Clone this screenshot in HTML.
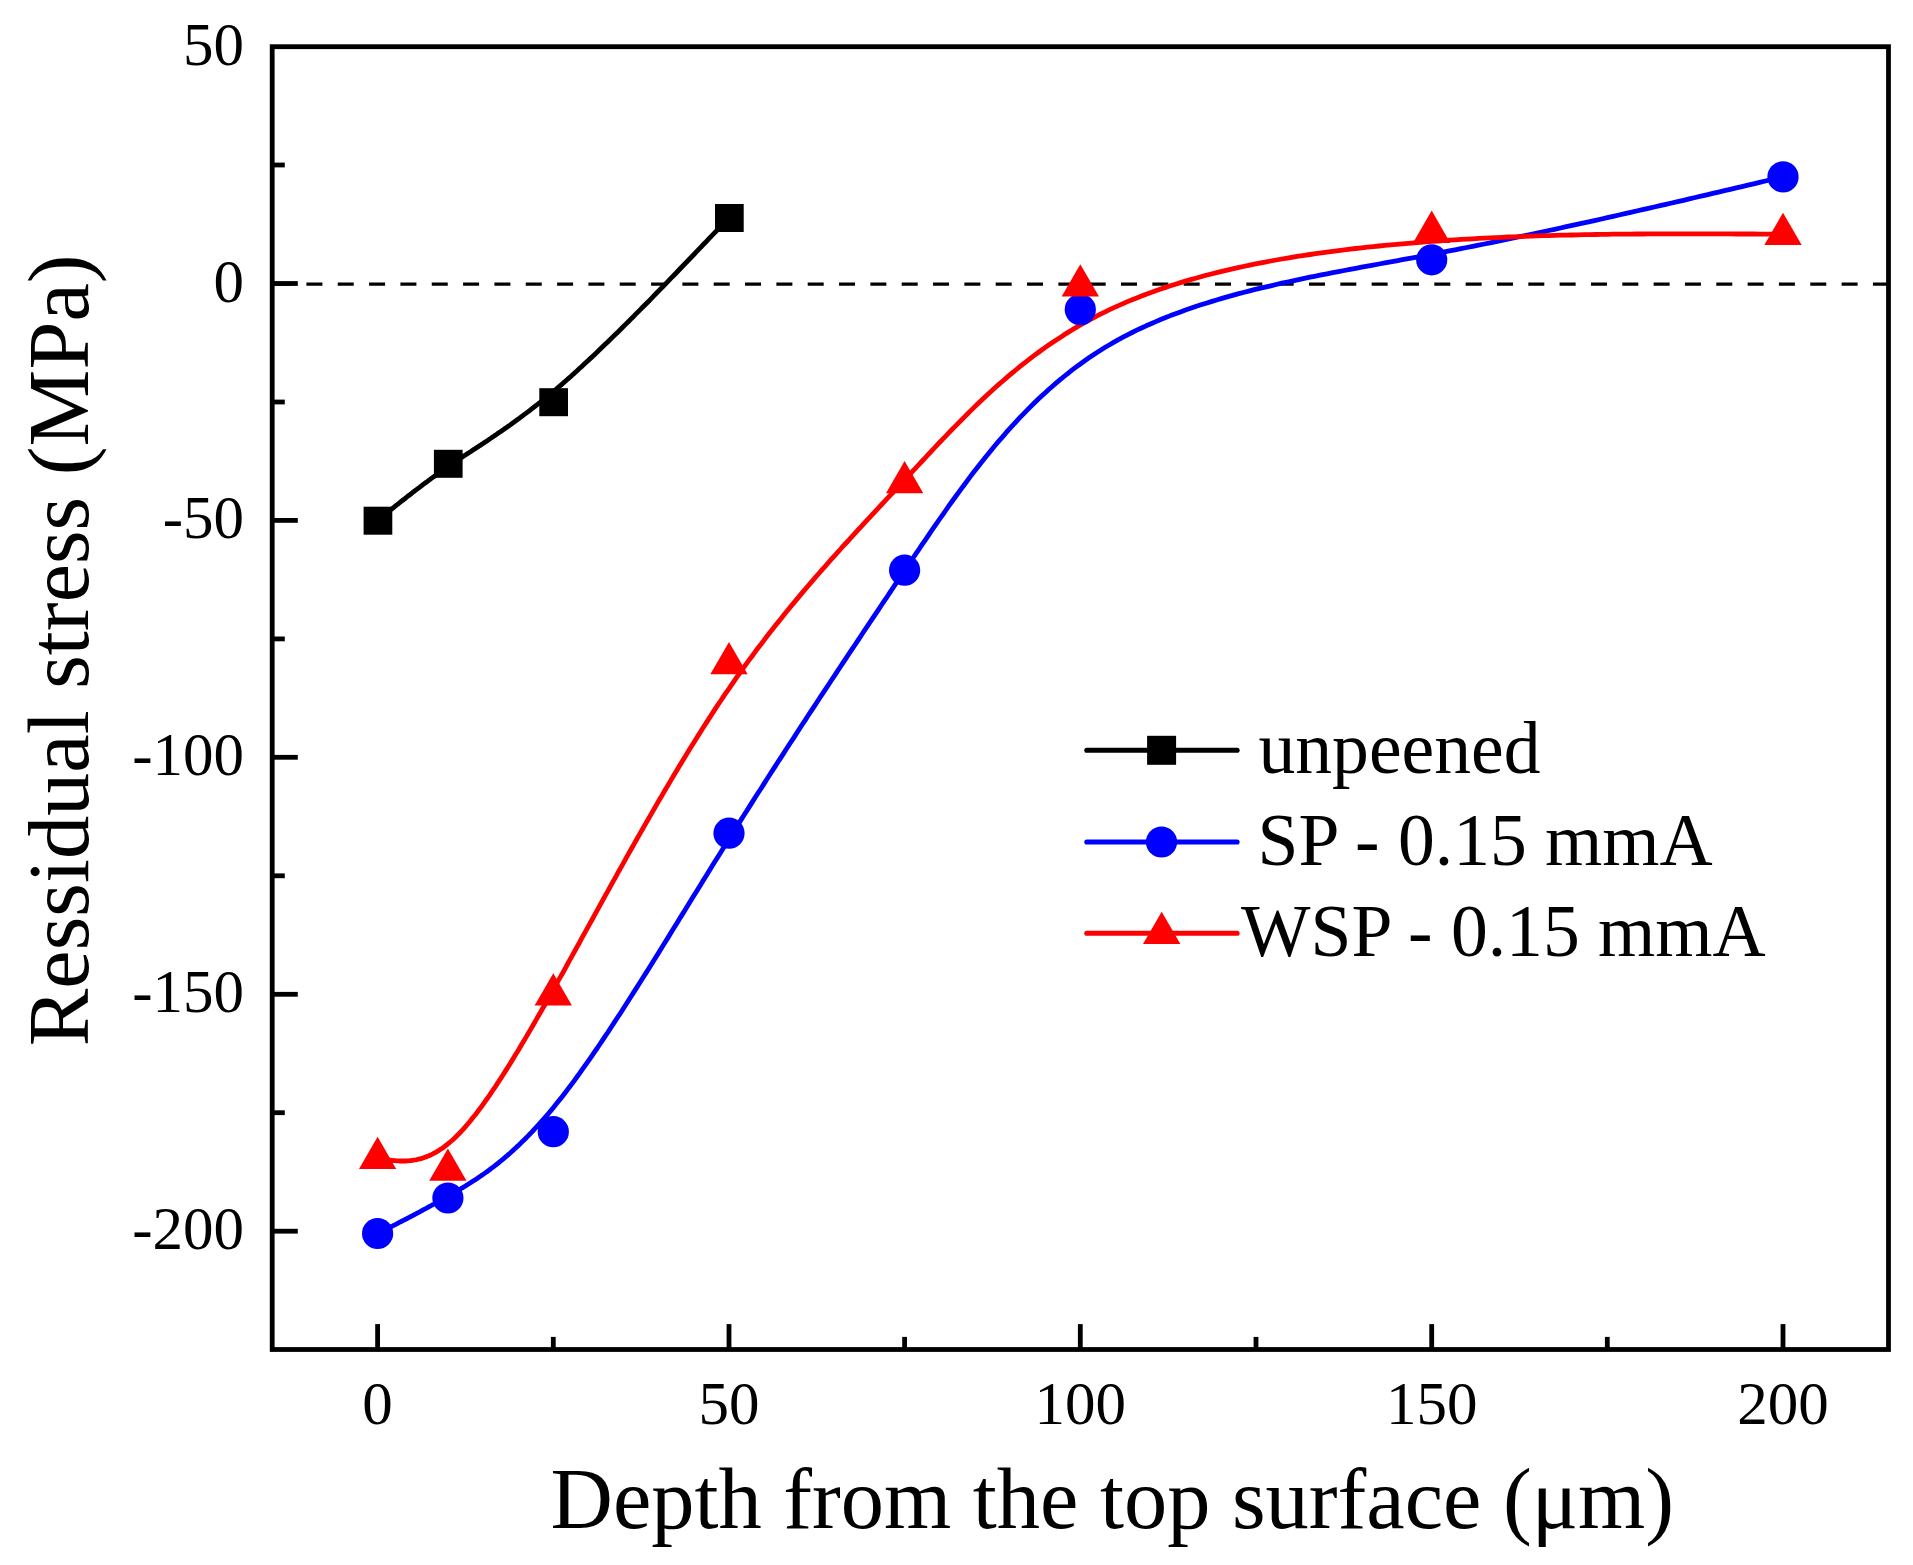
<!DOCTYPE html>
<html><head><meta charset="utf-8"><title>Residual stress</title>
<style>html,body{margin:0;padding:0;background:#fff}svg{display:block}text{font-family:"Liberation Serif","Times New Roman",serif;fill:#000}</style></head><body>
<svg width="1913" height="1565" viewBox="0 0 1913 1565">
<rect width="1913" height="1565" fill="#fff"/>
<line x1="275.1" y1="284.1" x2="1888.5" y2="284.1" stroke="#000" stroke-width="3.4" stroke-dasharray="16 15.33"/>
<g fill="none" stroke-width="4.8" stroke-linejoin="round" stroke-linecap="round">
<path d="M377.6,520.4 L378.8,519.5 L379.9,518.5 L381.1,517.6 L382.3,516.6 L383.5,515.7 L384.6,514.7 L385.8,513.8 L387.0,512.8 L388.2,511.9 L389.3,510.9 L390.5,510.0 L391.7,509.0 L392.9,508.1 L394.1,507.1 L395.3,506.2 L396.4,505.2 L397.6,504.3 L398.8,503.3 L400.0,502.4 L401.2,501.4 L402.4,500.5 L403.7,499.5 L404.9,498.6 L406.1,497.6 L407.3,496.7 L408.5,495.7 L409.8,494.8 L411.0,493.8 L412.2,492.8 L413.5,491.9 L414.7,490.9 L416.0,490.0 L417.2,489.0 L418.5,488.1 L419.8,487.1 L421.0,486.1 L422.3,485.2 L423.6,484.2 L424.9,483.2 L426.2,482.3 L427.5,481.3 L428.8,480.3 L430.1,479.4 L431.4,478.4 L432.8,477.4 L434.1,476.5 L435.5,475.5 L436.8,474.5 L438.2,473.6 L439.5,472.6 L440.9,471.6 L442.3,470.6 L443.7,469.6 L445.1,468.7 L446.5,467.7 L447.9,466.7 L449.4,465.7 L450.8,464.7 L452.3,463.8 L453.7,462.8 L455.2,461.8 L456.7,460.8 L458.2,459.8 L459.7,458.8 L461.2,457.8 L462.7,456.8 L464.2,455.8 L465.8,454.8 L467.3,453.8 L468.9,452.7 L470.5,451.7 L472.0,450.7 L473.6,449.6 L475.3,448.6 L476.9,447.5 L478.5,446.4 L480.2,445.4 L481.8,444.3 L483.5,443.2 L485.2,442.0 L486.9,440.9 L488.6,439.8 L490.3,438.6 L492.0,437.4 L493.8,436.3 L495.6,435.1 L497.3,433.8 L499.1,432.6 L500.9,431.4 L502.8,430.1 L504.6,428.8 L506.5,427.5 L508.3,426.2 L510.2,424.9 L512.1,423.5 L514.0,422.1 L515.9,420.7 L517.9,419.3 L519.9,417.9 L521.8,416.4 L523.8,414.9 L525.8,413.4 L527.9,411.9 L529.9,410.3 L532.0,408.7 L534.0,407.1 L536.1,405.5 L538.2,403.8 L540.4,402.1 L542.5,400.4 L544.7,398.7 L546.9,396.9 L549.1,395.1 L551.3,393.2 L553.5,391.4 L555.8,389.5 L558.0,387.5 L560.3,385.6 L562.7,383.6 L565.0,381.5 L567.3,379.5 L569.7,377.4 L572.1,375.2 L574.5,373.1 L576.9,370.9 L579.4,368.6 L581.8,366.4 L584.3,364.1 L586.8,361.8 L589.3,359.4 L591.9,357.1 L594.4,354.7 L597.0,352.2 L599.5,349.8 L602.1,347.3 L604.7,344.8 L607.4,342.3 L610.0,339.7 L612.6,337.1 L615.3,334.5 L618.0,331.9 L620.7,329.2 L623.4,326.6 L626.1,323.9 L628.8,321.2 L631.5,318.4 L634.3,315.7 L637.0,312.9 L639.8,310.1 L642.6,307.3 L645.4,304.5 L648.2,301.7 L651.0,298.8 L653.8,295.9 L656.6,293.0 L659.4,290.1 L662.3,287.2 L665.1,284.3 L668.0,281.4 L670.8,278.4 L673.7,275.5 L676.6,272.5 L679.4,269.5 L682.3,266.5 L685.2,263.5 L688.1,260.5 L691.0,257.5 L693.9,254.5 L696.8,251.4 L699.7,248.4 L702.6,245.3 L705.6,242.3 L708.5,239.2 L711.4,236.2 L714.3,233.1 L717.2,230.1 L720.2,227.0 L723.1,223.9 L726.0,220.8 L729.0,217.8" stroke="#000"/>
<path d="M377.6,1233.5 L378.8,1233.0 L379.9,1232.4 L381.1,1231.8 L382.3,1231.2 L383.5,1230.6 L384.6,1230.0 L385.8,1229.4 L387.0,1228.8 L388.2,1228.2 L389.3,1227.6 L390.5,1227.0 L391.7,1226.4 L392.9,1225.8 L394.1,1225.2 L395.3,1224.6 L396.4,1224.0 L397.6,1223.4 L398.8,1222.7 L400.0,1222.1 L401.2,1221.5 L402.4,1220.9 L403.7,1220.3 L404.9,1219.6 L406.1,1219.0 L407.3,1218.4 L408.5,1217.7 L409.8,1217.1 L411.0,1216.4 L412.2,1215.8 L413.5,1215.1 L414.7,1214.5 L416.0,1213.8 L417.2,1213.1 L418.5,1212.5 L419.8,1211.8 L421.0,1211.1 L422.3,1210.4 L423.6,1209.7 L424.9,1209.0 L426.2,1208.3 L427.5,1207.6 L428.8,1206.9 L430.1,1206.2 L431.4,1205.5 L432.8,1204.7 L434.1,1204.0 L435.5,1203.2 L436.8,1202.5 L438.2,1201.7 L439.5,1201.0 L440.9,1200.2 L442.3,1199.4 L443.7,1198.6 L445.1,1197.8 L446.5,1197.0 L447.9,1196.2 L449.4,1195.4 L450.8,1194.6 L452.3,1193.7 L453.7,1192.9 L455.2,1192.0 L456.7,1191.2 L458.2,1190.3 L459.7,1189.4 L461.2,1188.5 L462.7,1187.6 L464.2,1186.7 L465.8,1185.7 L467.3,1184.8 L468.9,1183.8 L470.5,1182.8 L472.0,1181.8 L473.6,1180.8 L475.3,1179.7 L476.9,1178.7 L478.5,1177.6 L480.2,1176.4 L481.8,1175.3 L483.5,1174.1 L485.2,1172.9 L486.9,1171.7 L488.6,1170.5 L490.3,1169.2 L492.0,1167.9 L493.8,1166.6 L495.6,1165.2 L497.3,1163.8 L499.1,1162.3 L500.9,1160.9 L502.8,1159.4 L504.6,1157.8 L506.5,1156.2 L508.3,1154.6 L510.2,1153.0 L512.1,1151.3 L514.0,1149.5 L515.9,1147.7 L517.9,1145.9 L519.9,1144.0 L521.8,1142.1 L523.8,1140.2 L525.8,1138.2 L527.9,1136.1 L529.9,1134.0 L532.0,1131.9 L534.0,1129.6 L536.1,1127.4 L538.2,1125.1 L540.4,1122.7 L542.5,1120.3 L544.7,1117.8 L546.9,1115.3 L549.1,1112.7 L551.3,1110.1 L553.5,1107.4 L555.8,1104.6 L558.0,1101.8 L560.3,1098.9 L562.7,1096.0 L565.0,1093.0 L567.3,1089.9 L569.7,1086.8 L572.1,1083.6 L574.5,1080.3 L576.9,1077.0 L579.4,1073.6 L581.8,1070.2 L584.3,1066.7 L586.8,1063.2 L589.3,1059.6 L591.9,1055.9 L594.4,1052.2 L597.0,1048.5 L599.5,1044.7 L602.1,1040.8 L604.7,1036.9 L607.4,1033.0 L610.0,1029.0 L612.6,1025.0 L615.3,1020.9 L618.0,1016.8 L620.7,1012.7 L623.4,1008.5 L626.1,1004.3 L628.8,1000.0 L631.5,995.8 L634.3,991.4 L637.0,987.1 L639.8,982.7 L642.6,978.3 L645.4,973.9 L648.2,969.4 L651.0,964.9 L653.8,960.4 L656.6,955.9 L659.4,951.4 L662.3,946.8 L665.1,942.2 L668.0,937.6 L670.8,933.0 L673.7,928.3 L676.6,923.7 L679.4,919.0 L682.3,914.4 L685.2,909.7 L688.1,905.0 L691.0,900.3 L693.9,895.6 L696.8,890.9 L699.7,886.2 L702.6,881.4 L705.6,876.7 L708.5,872.0 L711.4,867.3 L714.3,862.6 L717.2,857.9 L720.2,853.2 L723.1,848.5 L726.0,843.8 L729.0,839.1 L731.9,834.4 L734.8,829.7 L737.7,825.1 L740.7,820.4 L743.6,815.8 L746.5,811.2 L749.4,806.6 L752.4,801.9 L755.3,797.3 L758.2,792.8 L761.2,788.2 L764.1,783.6 L767.0,779.0 L769.9,774.5 L772.9,769.9 L775.8,765.4 L778.7,760.8 L781.7,756.3 L784.6,751.8 L787.5,747.3 L790.4,742.8 L793.4,738.3 L796.3,733.8 L799.2,729.3 L802.1,724.8 L805.1,720.3 L808.0,715.8 L810.9,711.4 L813.9,706.9 L816.8,702.5 L819.7,698.0 L822.6,693.6 L825.6,689.1 L828.5,684.7 L831.4,680.3 L834.4,675.8 L837.3,671.4 L840.2,667.0 L843.1,662.6 L846.1,658.2 L849.0,653.8 L851.9,649.4 L854.9,645.0 L857.8,640.6 L860.7,636.2 L863.6,631.8 L866.6,627.4 L869.5,623.0 L872.4,618.6 L875.3,614.3 L878.3,609.9 L881.2,605.5 L884.1,601.1 L887.1,596.8 L890.0,592.4 L892.9,588.0 L895.8,583.7 L898.8,579.3 L901.7,574.9 L904.6,570.6 L907.6,566.2 L910.5,561.8 L913.4,557.5 L916.3,553.1 L919.3,548.8 L922.2,544.4 L925.2,540.1 L928.1,535.8 L931.1,531.4 L934.0,527.1 L937.0,522.8 L940.0,518.5 L943.0,514.3 L946.0,510.0 L949.0,505.7 L952.0,501.5 L955.1,497.3 L958.1,493.1 L961.2,488.9 L964.3,484.7 L967.4,480.6 L970.5,476.4 L973.6,472.3 L976.8,468.3 L979.9,464.2 L983.1,460.2 L986.3,456.2 L989.6,452.2 L992.8,448.2 L996.1,444.3 L999.4,440.4 L1002.8,436.6 L1006.1,432.7 L1009.5,428.9 L1012.9,425.2 L1016.4,421.4 L1019.8,417.7 L1023.3,414.1 L1026.9,410.4 L1030.4,406.9 L1034.0,403.3 L1037.6,399.8 L1041.3,396.3 L1045.0,392.9 L1048.7,389.5 L1052.5,386.2 L1056.3,382.9 L1060.2,379.7 L1064.0,376.5 L1068.0,373.3 L1071.9,370.2 L1075.9,367.2 L1080.0,364.2 L1084.1,361.2 L1088.2,358.3 L1092.4,355.5 L1096.6,352.7 L1100.9,350.0 L1105.2,347.3 L1109.6,344.7 L1114.0,342.1 L1118.5,339.6 L1123.0,337.2 L1127.5,334.8 L1132.1,332.5 L1136.8,330.2 L1141.5,328.0 L1146.2,325.8 L1151.0,323.7 L1155.8,321.6 L1160.7,319.5 L1165.6,317.6 L1170.5,315.6 L1175.5,313.7 L1180.5,311.9 L1185.5,310.0 L1190.6,308.3 L1195.7,306.5 L1200.9,304.8 L1206.1,303.2 L1211.3,301.6 L1216.6,300.0 L1221.9,298.4 L1227.2,296.9 L1232.5,295.4 L1237.9,293.9 L1243.3,292.5 L1248.7,291.1 L1254.2,289.7 L1259.6,288.4 L1265.1,287.1 L1270.7,285.8 L1276.2,284.5 L1281.8,283.2 L1287.4,282.0 L1293.0,280.8 L1298.6,279.6 L1304.3,278.4 L1309.9,277.2 L1315.6,276.1 L1321.3,274.9 L1327.0,273.8 L1332.8,272.7 L1338.5,271.6 L1344.3,270.5 L1350.0,269.4 L1355.8,268.3 L1361.6,267.2 L1367.4,266.1 L1373.2,265.1 L1379.0,264.0 L1384.9,262.9 L1390.7,261.9 L1396.5,260.8 L1402.4,259.7 L1408.2,258.6 L1414.1,257.6 L1419.9,256.5 L1425.8,255.4 L1431.7,254.3 L1437.5,253.2 L1443.4,252.1 L1449.2,250.9 L1455.1,249.8 L1460.9,248.6 L1466.8,247.5 L1472.6,246.3 L1478.5,245.2 L1484.4,244.0 L1490.2,242.8 L1496.1,241.6 L1501.9,240.4 L1507.8,239.2 L1513.6,238.0 L1519.5,236.7 L1525.3,235.5 L1531.2,234.3 L1537.1,233.0 L1542.9,231.8 L1548.8,230.5 L1554.6,229.3 L1560.5,228.0 L1566.3,226.7 L1572.2,225.4 L1578.0,224.2 L1583.9,222.9 L1589.8,221.6 L1595.6,220.3 L1601.5,219.0 L1607.3,217.7 L1613.2,216.3 L1619.0,215.0 L1624.9,213.7 L1630.7,212.4 L1636.6,211.0 L1642.5,209.7 L1648.3,208.4 L1654.2,207.0 L1660.0,205.7 L1665.9,204.3 L1671.7,203.0 L1677.6,201.6 L1683.5,200.3 L1689.3,198.9 L1695.2,197.5 L1701.0,196.2 L1706.9,194.8 L1712.7,193.4 L1718.6,192.1 L1724.4,190.7 L1730.3,189.3 L1736.2,187.9 L1742.0,186.6 L1747.9,185.2 L1753.7,183.8 L1759.6,182.4 L1765.4,181.0 L1771.3,179.6 L1777.1,178.3 L1783.0,176.9" stroke="#0000ff"/>
<path d="M377.6,1158.2 L378.8,1158.4 L379.9,1158.6 L381.1,1158.8 L382.3,1159.0 L383.5,1159.2 L384.6,1159.4 L385.8,1159.5 L387.0,1159.7 L388.2,1159.9 L389.3,1160.0 L390.5,1160.2 L391.7,1160.3 L392.9,1160.5 L394.1,1160.6 L395.3,1160.7 L396.4,1160.8 L397.6,1160.9 L398.8,1160.9 L400.0,1161.0 L401.2,1161.0 L402.4,1161.0 L403.7,1161.0 L404.9,1161.0 L406.1,1161.0 L407.3,1160.9 L408.5,1160.8 L409.8,1160.7 L411.0,1160.6 L412.2,1160.4 L413.5,1160.2 L414.7,1160.0 L416.0,1159.8 L417.2,1159.5 L418.5,1159.2 L419.8,1158.9 L421.0,1158.6 L422.3,1158.2 L423.6,1157.8 L424.9,1157.3 L426.2,1156.9 L427.5,1156.3 L428.8,1155.8 L430.1,1155.2 L431.4,1154.6 L432.8,1153.9 L434.1,1153.2 L435.5,1152.5 L436.8,1151.7 L438.2,1150.9 L439.5,1150.0 L440.9,1149.1 L442.3,1148.2 L443.7,1147.2 L445.1,1146.1 L446.5,1145.0 L447.9,1143.9 L449.4,1142.7 L450.8,1141.5 L452.3,1140.2 L453.7,1138.9 L455.2,1137.5 L456.7,1136.0 L458.2,1134.5 L459.7,1133.0 L461.2,1131.4 L462.7,1129.8 L464.2,1128.1 L465.8,1126.3 L467.3,1124.5 L468.9,1122.7 L470.5,1120.8 L472.0,1118.8 L473.6,1116.8 L475.3,1114.8 L476.9,1112.7 L478.5,1110.5 L480.2,1108.3 L481.8,1106.1 L483.5,1103.8 L485.2,1101.4 L486.9,1099.0 L488.6,1096.6 L490.3,1094.1 L492.0,1091.5 L493.8,1088.9 L495.6,1086.3 L497.3,1083.6 L499.1,1080.9 L500.9,1078.1 L502.8,1075.2 L504.6,1072.4 L506.5,1069.4 L508.3,1066.5 L510.2,1063.4 L512.1,1060.4 L514.0,1057.3 L515.9,1054.1 L517.9,1050.9 L519.9,1047.6 L521.8,1044.3 L523.8,1041.0 L525.8,1037.6 L527.9,1034.1 L529.9,1030.6 L532.0,1027.1 L534.0,1023.5 L536.1,1019.9 L538.2,1016.2 L540.4,1012.5 L542.5,1008.8 L544.7,1005.0 L546.9,1001.1 L549.1,997.2 L551.3,993.3 L553.5,989.3 L555.8,985.3 L558.0,981.2 L560.3,977.1 L562.7,973.0 L565.0,968.8 L567.3,964.5 L569.7,960.2 L572.1,955.9 L574.5,951.5 L576.9,947.1 L579.4,942.7 L581.8,938.2 L584.3,933.7 L586.8,929.2 L589.3,924.6 L591.9,920.0 L594.4,915.4 L597.0,910.7 L599.5,906.1 L602.1,901.4 L604.7,896.6 L607.4,891.9 L610.0,887.1 L612.6,882.4 L615.3,877.6 L618.0,872.7 L620.7,867.9 L623.4,863.1 L626.1,858.2 L628.8,853.4 L631.5,848.5 L634.3,843.6 L637.0,838.8 L639.8,833.9 L642.6,829.0 L645.4,824.1 L648.2,819.2 L651.0,814.4 L653.8,809.5 L656.6,804.6 L659.4,799.7 L662.3,794.9 L665.1,790.0 L668.0,785.2 L670.8,780.4 L673.7,775.6 L676.6,770.8 L679.4,766.0 L682.3,761.2 L685.2,756.5 L688.1,751.8 L691.0,747.1 L693.9,742.4 L696.8,737.7 L699.7,733.1 L702.6,728.5 L705.6,723.9 L708.5,719.4 L711.4,714.9 L714.3,710.4 L717.2,705.9 L720.2,701.5 L723.1,697.2 L726.0,692.8 L729.0,688.6 L731.9,684.3 L734.8,680.1 L737.7,675.9 L740.7,671.8 L743.6,667.7 L746.5,663.7 L749.4,659.7 L752.4,655.7 L755.3,651.7 L758.2,647.8 L761.2,644.0 L764.1,640.1 L767.0,636.3 L769.9,632.5 L772.9,628.8 L775.8,625.1 L778.7,621.4 L781.7,617.7 L784.6,614.1 L787.5,610.5 L790.4,606.9 L793.4,603.4 L796.3,599.9 L799.2,596.4 L802.1,592.9 L805.1,589.4 L808.0,586.0 L810.9,582.6 L813.9,579.2 L816.8,575.8 L819.7,572.5 L822.6,569.1 L825.6,565.8 L828.5,562.5 L831.4,559.2 L834.4,556.0 L837.3,552.7 L840.2,549.5 L843.1,546.2 L846.1,543.0 L849.0,539.8 L851.9,536.6 L854.9,533.4 L857.8,530.2 L860.7,527.1 L863.6,523.9 L866.6,520.7 L869.5,517.6 L872.4,514.4 L875.3,511.3 L878.3,508.1 L881.2,505.0 L884.1,501.9 L887.1,498.7 L890.0,495.6 L892.9,492.5 L895.8,489.3 L898.8,486.2 L901.7,483.1 L904.6,479.9 L907.6,476.8 L910.5,473.6 L913.4,470.4 L916.3,467.3 L919.3,464.1 L922.2,461.0 L925.2,457.8 L928.1,454.7 L931.1,451.5 L934.0,448.3 L937.0,445.2 L940.0,442.0 L943.0,438.9 L946.0,435.8 L949.0,432.6 L952.0,429.5 L955.1,426.4 L958.1,423.3 L961.2,420.2 L964.3,417.1 L967.4,414.0 L970.5,410.9 L973.6,407.9 L976.8,404.8 L979.9,401.8 L983.1,398.8 L986.3,395.8 L989.6,392.8 L992.8,389.8 L996.1,386.8 L999.4,383.9 L1002.8,381.0 L1006.1,378.1 L1009.5,375.2 L1012.9,372.3 L1016.4,369.5 L1019.8,366.7 L1023.3,363.9 L1026.9,361.1 L1030.4,358.4 L1034.0,355.7 L1037.6,353.0 L1041.3,350.3 L1045.0,347.6 L1048.7,345.0 L1052.5,342.4 L1056.3,339.9 L1060.2,337.4 L1064.0,334.9 L1068.0,332.4 L1071.9,330.0 L1075.9,327.6 L1080.0,325.2 L1084.1,322.9 L1088.2,320.6 L1092.4,318.3 L1096.6,316.1 L1100.9,313.9 L1105.2,311.8 L1109.6,309.7 L1114.0,307.6 L1118.5,305.6 L1123.0,303.6 L1127.5,301.6 L1132.1,299.7 L1136.8,297.9 L1141.5,296.0 L1146.2,294.2 L1151.0,292.5 L1155.8,290.7 L1160.7,289.0 L1165.6,287.4 L1170.5,285.8 L1175.5,284.2 L1180.5,282.6 L1185.5,281.1 L1190.6,279.6 L1195.7,278.2 L1200.9,276.7 L1206.1,275.3 L1211.3,274.0 L1216.6,272.7 L1221.9,271.4 L1227.2,270.1 L1232.5,268.9 L1237.9,267.7 L1243.3,266.5 L1248.7,265.3 L1254.2,264.2 L1259.6,263.1 L1265.1,262.1 L1270.7,261.0 L1276.2,260.0 L1281.8,259.0 L1287.4,258.1 L1293.0,257.1 L1298.6,256.2 L1304.3,255.3 L1309.9,254.5 L1315.6,253.7 L1321.3,252.8 L1327.0,252.1 L1332.8,251.3 L1338.5,250.6 L1344.3,249.8 L1350.0,249.1 L1355.8,248.5 L1361.6,247.8 L1367.4,247.2 L1373.2,246.6 L1379.0,246.0 L1384.9,245.4 L1390.7,244.8 L1396.5,244.3 L1402.4,243.8 L1408.2,243.3 L1414.1,242.8 L1419.9,242.3 L1425.8,241.8 L1431.7,241.4 L1437.5,241.0 L1443.4,240.6 L1449.2,240.2 L1455.1,239.8 L1460.9,239.4 L1466.8,239.1 L1472.6,238.8 L1478.5,238.4 L1484.4,238.1 L1490.2,237.8 L1496.1,237.6 L1501.9,237.3 L1507.8,237.0 L1513.6,236.8 L1519.5,236.6 L1525.3,236.3 L1531.2,236.1 L1537.1,235.9 L1542.9,235.7 L1548.8,235.6 L1554.6,235.4 L1560.5,235.2 L1566.3,235.1 L1572.2,235.0 L1578.0,234.8 L1583.9,234.7 L1589.8,234.6 L1595.6,234.5 L1601.5,234.4 L1607.3,234.3 L1613.2,234.2 L1619.0,234.2 L1624.9,234.1 L1630.7,234.1 L1636.6,234.0 L1642.5,234.0 L1648.3,233.9 L1654.2,233.9 L1660.0,233.9 L1665.9,233.9 L1671.7,233.8 L1677.6,233.8 L1683.5,233.8 L1689.3,233.8 L1695.2,233.8 L1701.0,233.8 L1706.9,233.9 L1712.7,233.9 L1718.6,233.9 L1724.4,233.9 L1730.3,233.9 L1736.2,234.0 L1742.0,234.0 L1747.9,234.0 L1753.7,234.0 L1759.6,234.1 L1765.4,234.1 L1771.3,234.1 L1777.1,234.2 L1783.0,234.2" stroke="#ff0000"/>
</g>
<rect x="363.6" y="506.7" width="28.7" height="28" fill="#000"/>
<rect x="433.9" y="449.8" width="28.7" height="28" fill="#000"/>
<rect x="539.3" y="388.2" width="28.7" height="28" fill="#000"/>
<rect x="715.0" y="204.0" width="28.7" height="28" fill="#000"/>
<circle cx="377.6" cy="1233.5" r="15.6" fill="#0000ff"/>
<circle cx="447.9" cy="1198.0" r="15.6" fill="#0000ff"/>
<circle cx="553.3" cy="1131.7" r="15.6" fill="#0000ff"/>
<circle cx="729.0" cy="833.2" r="15.6" fill="#0000ff"/>
<circle cx="904.6" cy="570.2" r="15.6" fill="#0000ff"/>
<circle cx="1080.3" cy="309.6" r="15.6" fill="#0000ff"/>
<circle cx="1431.7" cy="259.8" r="15.6" fill="#0000ff"/>
<circle cx="1783.0" cy="176.9" r="15.6" fill="#0000ff"/>
<polygon points="377.6,1136.7 359.0,1169.0 396.2,1169.0" fill="#ff0000"/>
<polygon points="447.9,1148.5 429.2,1180.8 466.5,1180.8" fill="#ff0000"/>
<polygon points="553.3,973.2 534.6,1005.5 571.9,1005.5" fill="#ff0000"/>
<polygon points="729.0,642.0 710.3,674.3 747.6,674.3" fill="#ff0000"/>
<polygon points="904.6,461.0 886.0,493.3 923.3,493.3" fill="#ff0000"/>
<polygon points="1080.3,264.3 1061.7,296.6 1099.0,296.6" fill="#ff0000"/>
<polygon points="1431.7,210.6 1413.0,242.9 1450.3,242.9" fill="#ff0000"/>
<polygon points="1783.0,212.7 1764.3,245.0 1801.7,245.0" fill="#ff0000"/>
<rect x="272.2" y="46.7" width="1616.3" height="1302.8" fill="none" stroke="#000" stroke-width="4.8"/>
<g stroke="#000" stroke-width="4.8">
<line x1="272.2" y1="1231.2" x2="297.8" y2="1231.2"/>
<line x1="272.2" y1="994.3" x2="297.8" y2="994.3"/>
<line x1="272.2" y1="757.3" x2="297.8" y2="757.3"/>
<line x1="272.2" y1="520.4" x2="297.8" y2="520.4"/>
<line x1="272.2" y1="283.5" x2="297.8" y2="283.5"/>
<line x1="272.2" y1="1112.7" x2="284.8" y2="1112.7"/>
<line x1="272.2" y1="875.8" x2="284.8" y2="875.8"/>
<line x1="272.2" y1="638.9" x2="284.8" y2="638.9"/>
<line x1="272.2" y1="402.0" x2="284.8" y2="402.0"/>
<line x1="272.2" y1="165.0" x2="284.8" y2="165.0"/>
<line x1="377.6" y1="1349.5" x2="377.6" y2="1324.1"/>
<line x1="729.0" y1="1349.5" x2="729.0" y2="1324.1"/>
<line x1="1080.3" y1="1349.5" x2="1080.3" y2="1324.1"/>
<line x1="1431.7" y1="1349.5" x2="1431.7" y2="1324.1"/>
<line x1="1783.0" y1="1349.5" x2="1783.0" y2="1324.1"/>
<line x1="553.3" y1="1349.5" x2="553.3" y2="1336.9"/>
<line x1="904.6" y1="1349.5" x2="904.6" y2="1336.9"/>
<line x1="1256.0" y1="1349.5" x2="1256.0" y2="1336.9"/>
<line x1="1607.3" y1="1349.5" x2="1607.3" y2="1336.9"/>
</g>
<g font-size="61">
<text x="244" y="1249.2" text-anchor="end">-200</text>
<text x="244" y="1012.3" text-anchor="end">-150</text>
<text x="244" y="775.3" text-anchor="end">-100</text>
<text x="244" y="538.4" text-anchor="end">-50</text>
<text x="244" y="301.5" text-anchor="end">0</text>
<text x="244" y="64.6" text-anchor="end">50</text>
<text x="377.6" y="1423.6" text-anchor="middle">0</text>
<text x="729.0" y="1423.6" text-anchor="middle">50</text>
<text x="1080.3" y="1423.6" text-anchor="middle">100</text>
<text x="1431.7" y="1423.6" text-anchor="middle">150</text>
<text x="1783.0" y="1423.6" text-anchor="middle">200</text>
</g>
<text x="550.6" y="1528" font-size="86.4" id="xt">Depth from the top surface (μm)</text>
<text transform="translate(88,1046.3) rotate(-90)" font-size="86.4" id="yt">Ressidual stress (MPa)</text>
<line x1="1086.8" y1="750.3" x2="1237.1" y2="750.3" stroke="#000" stroke-width="5.1" stroke-linecap="round"/>
<rect x="1147.1" y="735.8" width="29" height="29" fill="#000"/>
<text x="1258.5" y="773.0" font-size="73.6" id="lg0">unpeened</text>
<line x1="1086.8" y1="842.0" x2="1237.1" y2="842.0" stroke="#0000ff" stroke-width="5.1" stroke-linecap="round"/>
<circle cx="1161.5" cy="842.0" r="15.6" fill="#0000ff"/>
<text x="1257.5" y="864.6" font-size="73.6" id="lg1">SP - 0.15 mmA</text>
<line x1="1086.8" y1="933.3" x2="1237.1" y2="933.3" stroke="#ff0000" stroke-width="5.1" stroke-linecap="round"/>
<polygon points="1161.7,911.8 1143.0,944.1 1180.4,944.1" fill="#ff0000"/>
<text x="1241" y="956.2" font-size="73.6" id="lg2">WSP - 0.15 mmA</text>
</svg></body></html>
